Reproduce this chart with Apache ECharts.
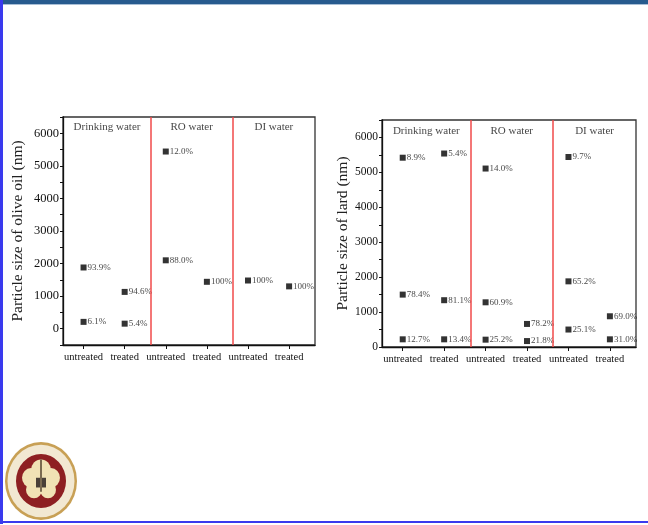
<!DOCTYPE html>
<html>
<head>
<meta charset="utf-8">
<script src="https://cdn.jsdelivr.net/npm/echarts@6/dist/echarts.min.js"></script>
<style>
html, body { margin: 0; padding: 0; background: #fff; }
#main { width: 648px; height: 525px; }
</style>
</head>
<body>
<div id="main"></div>
<script>
// category labels along the x axis (positions 1..6)
var treatLabels = ["untreated", "treated", "untreated", "treated", "untreated", "treated"];
var sectionNames = ["Drinking water", "RO water", "DI water"];
var sectionCenters = [1.57, 3.63, 5.63];
var dividers = [2.63, 4.63];
var yTicks = [0, 1000, 2000, 3000, 4000, 5000, 6000];

// olive oil: position, particle size (nm), share
var oliveX = [1, 1, 2, 2, 3, 3, 4, 5, 6];
var oliveSize = [1880, 210, 1130, 155, 5440, 2100, 1440, 1480, 1300];
var oliveShare = ["93.9%", "6.1%", "94.6%", "5.4%", "12.0%", "88.0%", "100%", "100%", "100%"];

// lard: position, particle size (nm), share
var lardX = [1, 1, 1, 2, 2, 2, 3, 3, 3, 4, 4, 5, 5, 5, 6, 6];
var lardSize = [5420, 1500, 220, 5540, 1340, 220, 5110, 1280, 210, 660, 170, 5440, 1880, 500, 880, 220];
var lardShare = ["8.9%", "78.4%", "12.7%", "5.4%", "81.1%", "13.4%", "14.0%", "60.9%", "25.2%",
  "78.2%", "21.8%", "9.7%", "65.2%", "25.1%", "69.0%", "31.0%"];

var FONT = "Liberation Serif";

function zip(xs, ys, ls) {
  return xs.map(function (x, i) { return [x, ys[i], ls[i]]; });
}

function xAxisFor(gi) {
  return {
    type: "value", gridIndex: gi, min: 0.5, max: 6.63,
    splitLine: { show: false },
    axisLine: { onZero: false, lineStyle: { color: "#111", width: 1.3 } },
    axisTick: { customValues: [1, 2, 3, 4, 5, 6], length: 4, lineStyle: { color: "#111" } },
    axisLabel: {
      customValues: [1, 2, 3, 4, 5, 6],
      formatter: function (v) { return treatLabels[Math.round(v) - 1] || ""; },
      fontFamily: FONT, fontSize: 10.5, color: "#111", margin: 7
    }
  };
}

function yAxisFor(gi, min, name, labelSize, nameGap) {
  return {
    type: "value", gridIndex: gi, min: min, max: 6500, interval: 500,
    name: name, nameLocation: "middle", nameGap: nameGap,
    nameTextStyle: { fontFamily: FONT, fontSize: 15.5, color: "#222" },
    splitLine: { show: false },
    axisLine: { show: true, onZero: false, lineStyle: { color: "#111", width: 1.3 } },
    axisTick: { length: 3, lineStyle: { color: "#111" } },
    axisLabel: {
      formatter: function (v) { return yTicks.indexOf(v) >= 0 ? String(v) : ""; },
      fontFamily: FONT, fontSize: labelSize, color: "#111", margin: 4
    }
  };
}

function pointSeries(gi, data) {
  return {
    type: "scatter", xAxisIndex: gi, yAxisIndex: gi,
    data: data, symbol: "rect", symbolSize: 6,
    itemStyle: { color: "#000" },
    label: {
      show: true, position: "right", distance: 1,
      formatter: function (p) { return p.value[2]; },
      fontFamily: FONT, fontSize: 9, color: "#111"
    },
    markLine: {
      silent: true, symbol: "none", label: { show: false },
      lineStyle: { color: "#f04a4a", width: 1.5, type: "solid" },
      data: dividers.map(function (d) { return { xAxis: d }; })
    }
  };
}

function sectionSeries(gi, y) {
  return {
    type: "scatter", xAxisIndex: gi, yAxisIndex: gi, silent: true,
    symbolSize: 0,
    data: sectionCenters.map(function (c, i) { return [c, y, sectionNames[i]]; }),
    label: {
      show: true, position: "inside",
      formatter: function (p) { return p.value[2]; },
      fontFamily: FONT, fontSize: 11, color: "#111"
    }
  };
}

var chart = echarts.init(document.getElementById("main"));
chart.setOption({
  backgroundColor: "#fff",
  animation: false,
  grid: [
    { left: 63, top: 117, width: 252, height: 228, show: true, borderColor: "#333", borderWidth: 1.3 },
    { left: 382, top: 120, width: 254, height: 227, show: true, borderColor: "#333", borderWidth: 1.3 }
  ],
  xAxis: [xAxisFor(0), xAxisFor(1)],
  yAxis: [
    yAxisFor(0, -500, "Particle size of olive oil (nm)", 12.5, 37),
    yAxisFor(1, 0, "Particle size of lard (nm)", 11.5, 31)
  ],
  series: [
    pointSeries(0, zip(oliveX, oliveSize, oliveShare)),
    sectionSeries(0, 6200),
    pointSeries(1, zip(lardX, lardSize, lardShare)),
    sectionSeries(1, 6170)
  ],
  graphic: [
    { type: "rect", shape: { x: 0, y: 0, width: 648, height: 4 }, style: { fill: "#275b8e" }, silent: true },
    { type: "rect", shape: { x: 0, y: 4, width: 648, height: 1 }, style: { fill: "#a9bfd6" }, silent: true },
    { type: "rect", shape: { x: 0, y: 0, width: 3, height: 524 }, style: { fill: "#3a3aee" }, silent: true },
    { type: "rect", shape: { x: 0, y: 521, width: 648, height: 2 }, style: { fill: "#3a3aee" }, silent: true },
    {
      type: "group", x: 41, y: 481, scaleY: 1.08, silent: true,
      children: [
        { type: "circle", shape: { cx: 0, cy: 0, r: 36 }, style: { fill: "#c8a055" } },
        { type: "circle", shape: { cx: 0, cy: 0, r: 33.5 }, style: { fill: "#f2e8d2" } },
        { type: "circle", shape: { cx: 0, cy: 0, r: 25 }, style: { fill: "#8e1f22" } },
        { type: "circle", shape: { cx: 0, cy: -10, r: 10 }, style: { fill: "#f1e2b5" } },
        { type: "circle", shape: { cx: -10, cy: -3, r: 9 }, style: { fill: "#f1e2b5" } },
        { type: "circle", shape: { cx: 10, cy: -3, r: 9 }, style: { fill: "#f1e2b5" } },
        { type: "circle", shape: { cx: -7, cy: 8, r: 8 }, style: { fill: "#f1e2b5" } },
        { type: "circle", shape: { cx: 7, cy: 8, r: 8 }, style: { fill: "#f1e2b5" } },
        { type: "rect", shape: { x: -5, y: -3, width: 10, height: 9 }, style: { fill: "#4a4038" } },
        { type: "rect", shape: { x: -1, y: -20, width: 2, height: 30 }, style: { fill: "#7a6a50" } }
      ]
    }
  ]
});
</script>
</body>
</html>
